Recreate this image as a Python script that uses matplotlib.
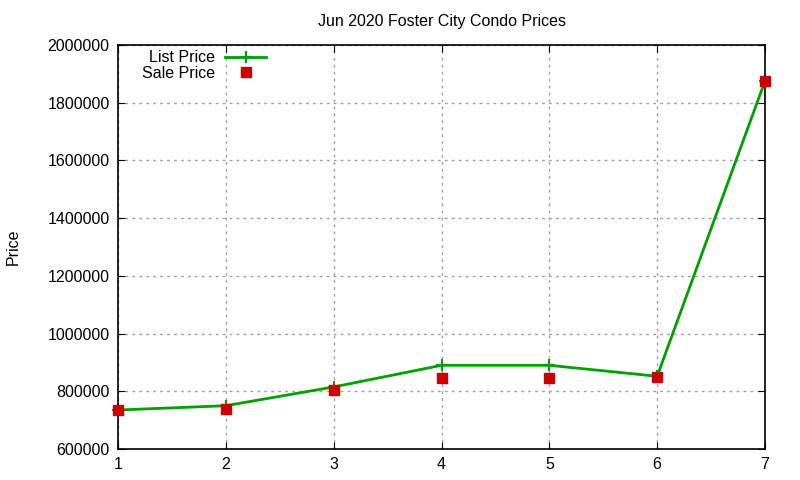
import matplotlib
matplotlib.use("Agg")
import matplotlib.pyplot as plt

# values
units = [1, 2, 3, 4, 5, 6, 7]
list_price = [735000, 750000, 815000, 890000, 890000, 852000, 1875000]
sale_price = [736000, 740000, 805000, 845000, 845000, 850000, 1875000]
yticks = [600000, 800000, 1000000, 1200000, 1400000, 1600000, 1800000, 2000000]

plt.rcParams['font.family'] = ['Liberation Sans', 'DejaVu Sans']

fig = plt.figure(figsize=(8, 4.8), dpi=100)
ax = fig.add_axes([0.1475, 0.0646, 0.80875, 0.8417])

ax.plot(units, list_price, color='#00a000', lw=2, marker='+', ms=9, mew=1.5,
        label='List Price', clip_on=False)
ax.plot(units, sale_price, color='#cc0000', ls='none', marker='s', ms=7,
        label='Sale Price', zorder=3, clip_on=False)

ax.set_xlim(1, 7)
ax.set_ylim(600000, 2000000)
ax.set_xticks(units)
ax.set_yticks(yticks)
ax.ticklabel_format(style='plain', axis='y')
ax.tick_params(direction='in', length=5, top=True, right=True, labelsize=11.5, pad=6)
ax.grid(True, color='#a0a0a0', ls=(0, (2, 3)), lw=1)
for s in ax.spines.values():
    s.set_linewidth(1.2)

ax.set_title('Jun 2020 Foster City Condo Prices', fontsize=11.5, pad=14)
ax.set_ylabel('Price', fontsize=11.5, labelpad=19)

ax.legend(loc='upper left', bbox_to_anchor=(0.02, 1.015), frameon=False,
          markerfirst=False, fontsize=11.5, handlelength=2.6,
          handletextpad=0.6, labelspacing=0.05, borderaxespad=0.3)

fig.savefig('out.png', dpi=100)
